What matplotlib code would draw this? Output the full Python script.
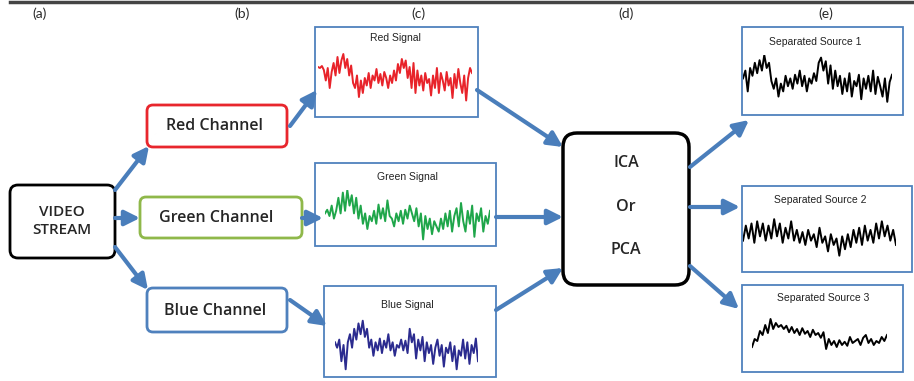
import matplotlib
matplotlib.use("Agg")
import matplotlib.pyplot as plt
from matplotlib.patches import FancyBboxPatch, Rectangle

W, H = 914, 381

# signal traces (relative level 0..1)
red_signal = [0.72, 0.70, 0.74, 0.66, 0.45, 0.70, 0.30, 0.62, 0.80, 0.55, 0.92, 0.60, 0.85, 0.98, 0.70, 0.88,
              0.55, 0.75, 0.40, 0.30, 0.55, 0.12, 0.45, 0.20, 0.50, 0.35, 0.60, 0.30, 0.55, 0.45, 0.68, 0.40,
              0.58, 0.35, 0.62, 0.50, 0.30, 0.55, 0.40, 0.65, 0.45, 0.78, 0.60, 0.88, 0.70, 0.85, 0.50, 0.72,
              0.30, 0.80, 0.20, 0.65, 0.35, 0.55, 0.25, 0.60, 0.40, 0.48, 0.15, 0.55, 0.30, 0.70, 0.20, 0.60,
              0.45, 0.25, 0.62, 0.35, 0.50, 0.10, 0.58, 0.30, 0.68, 0.40, 0.20, 0.55, 0.05, 0.50, 0.70, 0.60]
green_signal = [0.55, 0.62, 0.50, 0.70, 0.45, 0.60, 0.85, 0.55, 0.95, 0.60, 1.00, 0.70, 0.90, 0.55, 0.85, 0.45,
                0.70, 0.35, 0.55, 0.25, 0.50, 0.40, 0.60, 0.35, 0.72, 0.45, 0.65, 0.40, 0.80, 0.50, 0.45, 0.30,
                0.55, 0.40, 0.60, 0.35, 0.62, 0.45, 0.70, 0.55, 0.40, 0.65, 0.30, 0.55, 0.05, 0.50, 0.25, 0.45,
                0.15, 0.40, 0.30, 0.20, 0.45, 0.25, 0.55, 0.30, 0.60, 0.20, 0.50, 0.65, 0.30, 0.75, 0.40, 0.20,
                0.60, 0.35, 0.70, 0.10, 0.55, 0.40, 0.65, 0.20, 0.50, 0.35, 0.60]
blue_signal = [0.55, 0.45, 0.60, 0.20, 0.50, 0.05, 0.55, 0.70, 0.45, 0.80, 0.60, 0.90, 0.70, 0.95, 0.65, 0.80,
               0.45, 0.60, 0.30, 0.55, 0.40, 0.62, 0.35, 0.58, 0.45, 0.70, 0.40, 0.55, 0.30, 0.50, 0.45, 0.60,
               0.40, 0.58, 0.35, 0.80, 0.55, 0.70, 0.25, 0.60, 0.40, 0.65, 0.20, 0.55, 0.35, 0.50, 0.15, 0.45,
               0.60, 0.30, 0.50, 0.10, 0.45, 0.35, 0.55, 0.20, 0.48, 0.05, 0.40, 0.30, 0.60, 0.25, 0.55, 0.15,
               0.50, 0.35, 0.62, 0.20]
source_1 = [0.55, 0.70, 0.30, 0.75, 0.60, 0.85, 0.65, 0.90, 0.70, 1.00, 0.75, 0.85, 0.50, 0.35, 0.55, 0.20,
            0.45, 0.30, 0.60, 0.40, 0.55, 0.35, 0.62, 0.45, 0.70, 0.40, 0.60, 0.30, 0.55, 0.45, 0.65, 0.50,
            0.85, 0.95, 0.70, 0.88, 0.45, 0.80, 0.35, 0.70, 0.40, 0.60, 0.25, 0.55, 0.30, 0.65, 0.20, 0.50,
            0.40, 0.62, 0.15, 0.55, 0.35, 0.60, 0.30, 0.70, 0.25, 0.58, 0.40, 0.20, 0.55, 0.10, 0.48, 0.62]
source_2 = [0.45, 0.80, 0.50, 0.85, 0.40, 0.90, 0.55, 0.85, 0.45, 0.80, 0.50, 0.95, 0.55, 0.85, 0.40, 0.75,
            0.50, 0.90, 0.45, 0.70, 0.40, 0.65, 0.35, 0.70, 0.45, 0.60, 0.30, 0.75, 0.40, 0.55, 0.20, 0.60,
            0.35, 0.50, 0.10, 0.55, 0.25, 0.60, 0.30, 0.70, 0.40, 0.75, 0.35, 0.80, 0.45, 0.70, 0.40, 0.85,
            0.50, 0.90, 0.55, 0.80, 0.45, 0.70, 0.35]
source_3 = [0.25, 0.45, 0.40, 0.65, 0.55, 0.80, 0.60, 0.95, 0.70, 0.85, 0.75, 0.80, 0.70, 0.78, 0.62, 0.75,
            0.60, 0.70, 0.55, 0.72, 0.58, 0.65, 0.50, 0.68, 0.55, 0.60, 0.48, 0.62, 0.20, 0.45, 0.30, 0.40,
            0.25, 0.42, 0.30, 0.38, 0.28, 0.50, 0.35, 0.40, 0.45, 0.30, 0.48, 0.55, 0.35, 0.45, 0.30, 0.40,
            0.35, 0.50, 0.40, 0.55]

panel_labels = ["(a)", "(b)", "(c)", "(d)", "(e)"]
panel_x = [40, 242, 418, 626, 826]

arrow_c = "#4a7ebb"
box_blue = "#4f81bd"
txt_c = "#262626"

fig = plt.figure(figsize=(W / 100, H / 100), dpi=100)
ax = fig.add_axes([0, 0, 1, 1])
ax.set_xlim(0, W)
ax.set_ylim(H, 0)
ax.axis("off")

# top rule and panel letters
ax.plot([10, W], [2, 2], color="#444444", lw=2.5)
for lab, x in zip(panel_labels, panel_x):
    ax.text(x, 14, lab, ha="center", va="center", fontsize=10, color="#2a2a2a", family="Lato")


def rbox(x0, y0, x1, y1, color, lw=2, rad=6):
    ax.add_patch(FancyBboxPatch((x0 + rad, y0 + rad), x1 - x0 - 2 * rad, y1 - y0 - 2 * rad,
                                boxstyle=f"round,pad={rad}", fc="white", ec=color, lw=lw))


def label(x, y, s, size=11.5, **kw):
    ax.text(x, y, s, ha="center", va="center", fontsize=size, color=txt_c,
            family="Open Sans", fontweight="semibold", **kw)


def arrow(x0, y0, x1, y1):
    ax.annotate("", xy=(x1, y1), xytext=(x0, y0),
                arrowprops=dict(arrowstyle="-|>,head_length=0.9,head_width=0.45",
                                color=arrow_c, lw=3, shrinkA=0, shrinkB=0))


def signal(vals, x0, y0, x1, y1, color):
    a = fig.add_axes([x0 / W, 1 - y1 / H, (x1 - x0) / W, (y1 - y0) / H])
    a.plot(range(len(vals)), vals, color=color, lw=1.4)
    a.set_xlim(0, len(vals) - 1)
    a.set_ylim(0, 1)
    a.axis("off")


# boxes
rbox(10, 185, 115, 258, "black", lw=2, rad=8)
label(62, 221, "VIDEO\nSTREAM", size=11, linespacing=1.45)
rbox(147, 105, 287, 147, "#e8262d", lw=2)
label(215, 126, "Red Channel")
rbox(140, 197, 302, 238, "#8fb84a", lw=2)
label(216, 218, "Green Channel")
rbox(147, 288, 287, 332, box_blue, lw=2)
label(215, 311, "Blue Channel")
rbox(563, 133, 689, 285, "black", lw=2.5, rad=14)
for y, t in zip([163, 207, 250], ["ICA", "Or", "PCA"]):
    label(626, y, t)

# signal frames
frames = [(315, 27, 478, 117, "Red Signal", 395, 38),
          (315, 163, 496, 246, "Green Signal", 407, 177),
          (324, 286, 496, 377, "Blue Signal", 407, 305),
          (742, 27, 903, 115, "Separated Source 1", 815, 42),
          (742, 186, 912, 272, "Separated Source 2", 820, 200),
          (742, 285, 903, 372, "Separated Source 3", 823, 298)]
for x0, y0, x1, y1, t, tx, ty in frames:
    ax.add_patch(Rectangle((x0, y0), x1 - x0, y1 - y0, fc="white", ec=box_blue, lw=1.3))
    ax.text(tx, ty, t, ha="center", va="center", fontsize=7.5, color="#222222",
            family="Liberation Sans")

signal(red_signal, 318, 53, 472, 103, "#e8232a")
signal(green_signal, 325, 190, 490, 242, "#1fa64a")
signal(blue_signal, 335, 318, 478, 372, "#2b2b8f")
signal(source_1, 743, 55, 892, 107, "black")
signal(source_2, 743, 217, 896, 260, "black")
signal(source_3, 752, 317, 887, 357, "black")

# arrows
arrow(115, 190, 149, 146)
arrow(115, 218, 140, 218)
arrow(115, 247, 148, 290)
arrow(290, 126, 317, 90)
arrow(302, 218, 323, 218)
arrow(290, 300, 327, 326)
arrow(477, 90, 563, 147)
arrow(496, 217, 563, 217)
arrow(496, 310, 563, 268)
arrow(690, 167, 749, 120)
arrow(690, 207, 740, 207)
arrow(690, 266, 739, 309)

fig.savefig("out.png", dpi=100)
